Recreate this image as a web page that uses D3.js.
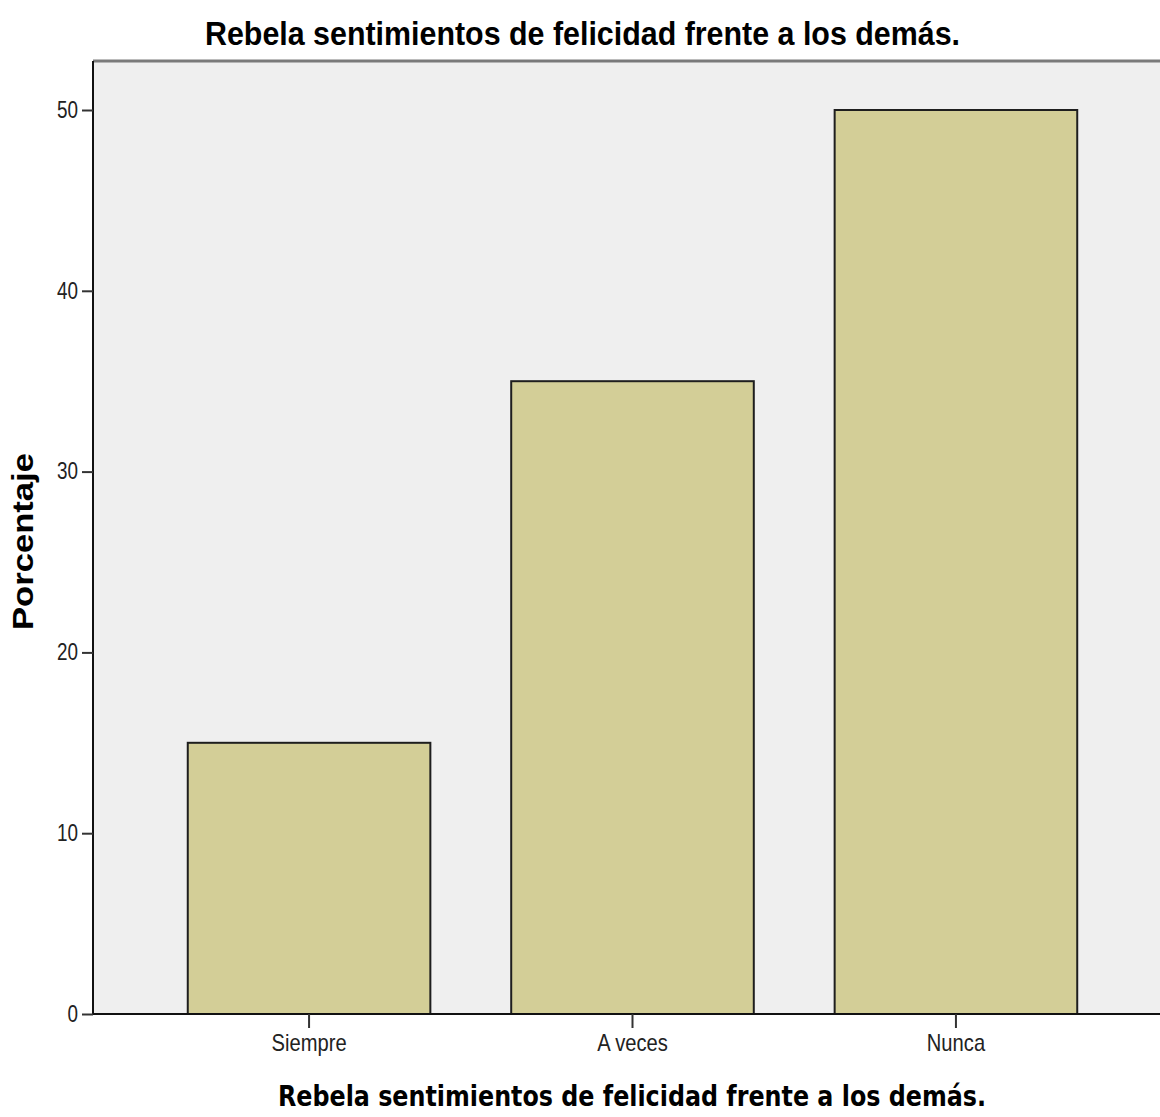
<!DOCTYPE html>
<html>
<head>
<meta charset="utf-8">
<script src="https://cdn.jsdelivr.net/npm/d3@7"></script>
<style>
  html, body { margin: 0; padding: 0; background: #ffffff; }
  svg { display: block; }
</style>
</head>
<body>
<svg id="chart" width="1160" height="1117"></svg>
<script>
const categories = ["Siempre", "A veces", "Nunca"];
const values = [15, 35, 50];
const yTicks = [0, 10, 20, 30, 40, 50];
const titleText = "Rebela sentimientos de felicidad frente a los demás.";
const xAxisTitle = "Rebela sentimientos de felicidad frente a los demás.";
const yAxisTitle = "Porcentaje";

const svg = d3.select("#chart");
const plotLeft = 93, plotRight = 1172, plotTop = 61, plotBottom = 1014;

const x = d3.scaleBand().domain(categories).range([plotLeft, plotRight])
  .paddingInner(0.25).paddingOuter(0.293);
const y = d3.scaleLinear().domain([0, 50]).range([plotBottom, 110]);

// plot background
svg.append("rect").attr("x", plotLeft).attr("y", plotTop)
  .attr("width", 1160 - plotLeft).attr("height", plotBottom - plotTop)
  .attr("fill", "#efefef");

// top border
svg.append("line").attr("x1", plotLeft).attr("x2", 1160)
  .attr("y1", plotTop).attr("y2", plotTop)
  .attr("stroke", "#7a7a7a").attr("stroke-width", 3);

// bars
svg.append("g").selectAll("rect").data(values).join("rect")
  .attr("x", (d, i) => x(categories[i]))
  .attr("y", d => y(d))
  .attr("width", x.bandwidth())
  .attr("height", d => y(0) - y(d))
  .attr("fill", "#d3ce97")
  .attr("stroke", "#1e1e1e")
  .attr("stroke-width", 2);

const narrowFont = "'Liberation Sans Narrow', 'Arial Narrow', 'Liberation Sans', Arial, sans-serif";
function condense(sel, factor) {
  sel.each(function () {
    const len = this.getComputedTextLength();
    d3.select(this).attr("textLength", len * factor).attr("lengthAdjust", "spacingAndGlyphs");
  });
}

// y axis
const yAxis = svg.append("g").attr("transform", `translate(${plotLeft},0)`)
  .call(d3.axisLeft(y).tickValues(yTicks).tickSize(11).tickPadding(4).tickFormat(d3.format("d")));
yAxis.select(".domain").attr("d", `M0,${plotTop}V${plotBottom}`).attr("stroke", "#111").attr("stroke-width", 2);
yAxis.selectAll(".tick line").attr("stroke", "#333").attr("stroke-width", 2);
yAxis.selectAll(".tick text")
  .attr("font-family", narrowFont)
  .attr("font-size", 23).attr("fill", "#222")
  .call(condense, 0.82);

// x axis
const xAxis = svg.append("g").attr("transform", `translate(0,${plotBottom})`)
  .call(d3.axisBottom(x).tickSize(14).tickPadding(6));
xAxis.select(".domain").attr("d", `M${plotLeft},0H1160`).attr("stroke", "#111").attr("stroke-width", 2);
xAxis.selectAll(".tick line").attr("stroke", "#333").attr("stroke-width", 2);
xAxis.selectAll(".tick text")
  .attr("font-family", narrowFont)
  .attr("font-size", 24).attr("fill", "#222")
  .call(condense, 0.84);

// titles
svg.append("text").attr("x", 205).attr("y", 45)
  .attr("font-family", "'Liberation Sans', Arial, sans-serif")
  .attr("font-weight", "bold").attr("font-size", 34)
  .attr("textLength", 755).attr("lengthAdjust", "spacingAndGlyphs")
  .attr("fill", "#000").text(titleText);

svg.append("text").attr("x", 278).attr("y", 1106)
  .attr("font-family", "'DejaVu Sans', Verdana, sans-serif")
  .attr("font-weight", "bold").attr("font-size", 28)
  .attr("textLength", 708).attr("lengthAdjust", "spacingAndGlyphs")
  .attr("fill", "#000").text(xAxisTitle);

svg.append("text")
  .attr("transform", "translate(33,630) rotate(-90)")
  .attr("font-family", "'Liberation Sans', Arial, sans-serif")
  .attr("font-weight", "bold").attr("font-size", 29)
  .attr("textLength", 177).attr("lengthAdjust", "spacingAndGlyphs")
  .attr("fill", "#000").text(yAxisTitle);
</script>
</body>
</html>
